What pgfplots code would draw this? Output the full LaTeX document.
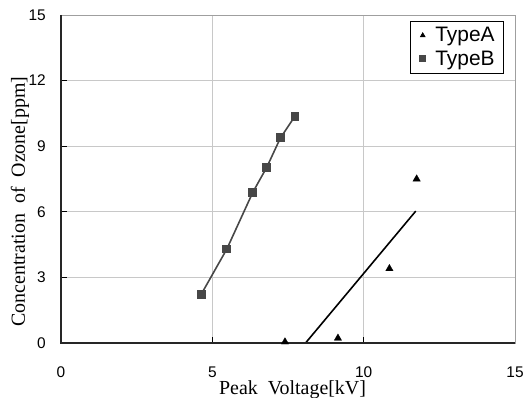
\documentclass[border=0pt]{standalone}
\usepackage{fontspec}
\setmainfont{Liberation Serif}
\newfontfamily\sansf{Liberation Sans}
\usepackage{pgfplots}
\pgfplotsset{compat=1.18}
\definecolor{bcol}{HTML}{474747}
\definecolor{gridc}{HTML}{C8C8C8}
\newcommand{\legf}{\sansf\fontsize{21}{22}\selectfont}
\begin{document}
\begin{tikzpicture}
\begin{axis}[
  scale only axis,
  width=454bp, height=328bp,
  xmin=0, xmax=15, ymin=0, ymax=15,
  xtick={0,5,10,15}, ytick={0,3,6,9,12,15},
  tick pos=left,
  tick align=inside,
  major tick length=6bp,
  tick style={black, line width=0.8pt},
  grid=major,
  major grid style={gridc, line width=0.7pt},
  axis line style={draw=gray!75, line width=0.7pt},
  /pgf/number format/assume math mode=true,
  ticklabel style={font=\sansf\fontsize{15.5}{18}\selectfont},
  xticklabel style={anchor=base, yshift=-34bp, inner sep=0pt},
  yticklabel style={anchor=east, xshift=-15bp, inner sep=0pt},
  xlabel={Peak\ \ Voltage[kV]},
  ylabel={Concentration\ \ of\ \ Ozone[ppm]},
  label style={font=\fontsize{20}{22}\selectfont},
  xlabel style={at={(axis description cs:0.51,-0.1555)}, anchor=base, inner sep=0pt},
  ylabel style={at={(axis description cs:-0.0793,0.431)}, anchor=base, rotate=0, inner sep=0pt},
  legend style={at={(axis description cs:0.9742,0.9826)}, anchor=north east,
    draw=black, line width=0.7pt, inner xsep=5.3bp, inner ysep=4.5bp, row sep=3.5bp,
    nodes={inner xsep=3bp, inner ysep=2bp}},
  legend image code/.code={\path[draw=none, fill=none] (0,0) -- (17bp,0); \draw[#1, mark size=2.7bp] plot coordinates {(7.4bp,0)};},
  legend cell align=left,
  clip=false,
]
\addplot[only marks, mark=triangle*, mark size=4.2bp, black] coordinates {
  (7.40,0.05) (9.15,0.22) (10.85,3.40) (11.75,7.50)
};
\addlegendentry{\legf TypeA}
\addplot[bcol, line width=1.6pt, mark=square*, mark size=3.6bp, mark options={fill=bcol, draw=bcol}] coordinates {
  (4.63,2.22) (5.48,4.30) (6.34,6.90) (6.80,8.04) (7.25,9.38) (7.73,10.37)
};
\addlegendentry{\legf TypeB}
\addplot[black, line width=1.6pt, forget plot] coordinates {
  (8.08,0) (11.72,6.03)
};
\draw[black!85, line width=1.3pt] (rel axis cs:0,1) -- (rel axis cs:0,0) -- (rel axis cs:1,0);
\end{axis}
\pgfresetboundingbox
\path (current axis.south west) ++(-61bp,-55bp) rectangle ([xshift=9bp,yshift=15bp]current axis.north east);
\end{tikzpicture}
\end{document}
